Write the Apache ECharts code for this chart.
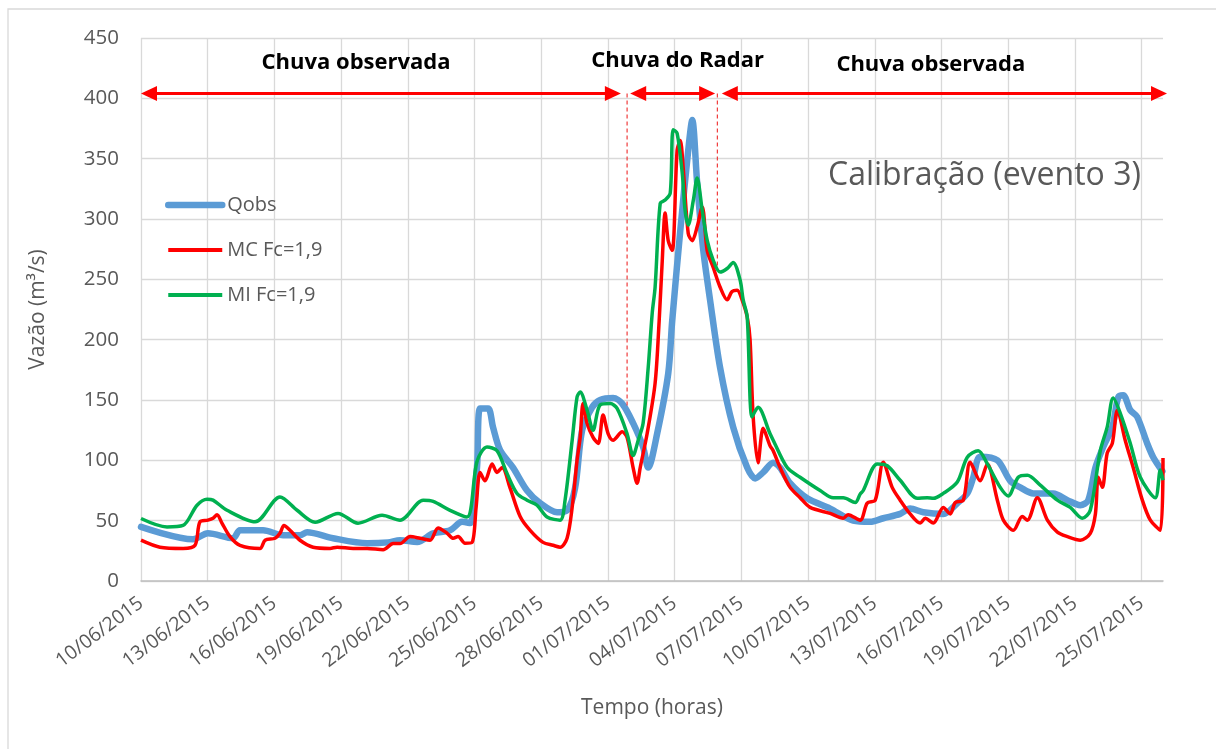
<!DOCTYPE html>
<html>
<head>
<meta charset="utf-8">
<script src="https://cdn.jsdelivr.net/npm/echarts@6/dist/echarts.min.js"></script>
<style>
html,body{margin:0;padding:0;background:#fff;}
#c{width:1216px;height:749px;}
</style>
</head>
<body>
<div id="c"></div>
<script>
// ---------- DATA (days since 10/06/2015, discharge m³/s) ----------
const tickLabels = ['10/06/2015','13/06/2015','16/06/2015','19/06/2015','22/06/2015','25/06/2015','28/06/2015','01/07/2015','04/07/2015','07/07/2015','10/07/2015','13/07/2015','16/07/2015','19/07/2015','22/07/2015','25/07/2015'];
const tickDays = [0,3,6,9,12,15,18,21,24,27,30,33,36,39,42,45];

const qobsDays = [0,2.34,3.01,4.14,4.45,5.49,6.39,7.15,7.47,8.64,10.17,11.11,11.65,12.42,13.14,13.90,14.44,14.80,15.11,15.25,15.61,15.83,16.15,16.73,17.36,17.95,18.71,19.16,19.52,19.84,20.29,20.65,21.23,21.64,22.13,22.58,22.81,23.21,23.71,23.89,24.25,24.61,24.79,25.01,25.28,25.59,26.04,26.63,27.26,27.62,27.98,28.43,28.74,29.19,29.96,30.99,32.03,32.79,33.38,34.14,34.59,35.18,36.08,36.71,37.16,37.43,37.74,38.51,39.09,39.54,40.13,41.03,41.66,42.24,42.60,42.92,43.27,43.68,43.95,44.17,44.49,44.80,45.25,45.52,45.93];
const qobsVals = [44.8,34.6,39.5,35.4,42,42,38,38,40.4,35.4,31.3,32,33.8,32.4,39.5,42,49,48,94,143,143,127.5,108.4,94,75,64.5,57,58.6,77,125,144,150,151.6,147,130.8,111,94,122,172,216,290,357,382,330,275,233,177,127.5,94,85,90,98,94,81,68.5,60,50,49,52,55.6,60,57,55.6,64.5,72.6,86,103,100,83,77.6,72.6,72.6,67,62.8,67,94,111,127.5,152.5,154,141.6,136,114,102.6,91];

const mcDays = [0,0.85,1.89,2.43,2.65,3.01,3.24,3.42,3.64,4.00,4.45,5.35,5.58,6.03,6.25,6.43,6.70,7.15,7.74,8.50,8.82,9.54,10.17,10.89,11.34,11.65,12.10,12.55,13.00,13.36,13.77,14.04,14.26,14.57,14.89,15.07,15.25,15.47,15.79,16.01,16.24,16.60,17.05,17.50,18.08,18.53,18.85,19.16,19.39,19.61,19.75,19.88,20.06,20.33,20.56,20.78,21.01,21.23,21.64,21.86,22.13,22.31,22.45,22.76,23.12,23.30,23.44,23.57,23.71,23.89,24.11,24.25,24.38,24.61,24.79,25.01,25.24,25.46,25.73,26.04,26.36,26.58,26.81,27.03,27.26,27.39,27.53,27.75,27.98,28.29,28.43,28.74,29.19,29.64,30.09,30.99,31.58,31.80,32.34,32.66,33.02,33.38,33.78,34.14,34.59,35.04,35.27,35.63,36.08,36.39,36.62,36.98,37.29,37.74,38.06,38.51,38.78,39.23,39.63,39.86,40.31,40.76,41.21,41.66,42.24,42.69,42.92,43.05,43.23,43.45,43.68,43.91,44.26,44.62,45.03,45.39,45.84,45.96];
const mcVals = [33.8,28,27,29.6,49,50.4,52,55,48,36.8,29.6,27,33.8,35.4,39.5,46,42,33.8,28,27,28,27,27,26,31,31,36.8,35.4,33.8,44,39.5,35.4,36.8,31.3,32,61,90,83,97,90,94,77,53.5,42,32,29.6,28,35.4,61,100,119,147,130.8,119,114,137.5,122,116.7,123.6,119,94,81,94,122,164,215,265,305,282,274,357,365,343,288,282,293.5,310,274,260,243.6,233,240,241,233,219,200,136,98,126.5,112,108,94,77.6,69,61,56,52,55,50.4,64.5,67,98.4,77.6,67,55.6,48,52,48,61,55.6,65,67,98.4,83,97,67,50.4,42,53.5,50.4,69,50.4,40.5,36.8,33.8,39.5,55.6,86,77.6,106,114,141.6,116.7,94,67,50.4,42,102];

const miDays = [0,1.17,1.89,2.52,2.97,3.24,3.87,5.13,6.25,7.02,7.83,8.86,9.76,10.84,11.65,12.69,13.14,13.90,14.66,15.11,15.56,16.01,16.46,16.91,17.36,17.81,18.26,18.85,19.07,19.39,19.61,19.75,20.06,20.33,20.65,21.10,21.41,21.86,22.13,22.36,22.58,22.81,22.99,23.12,23.35,23.57,23.80,23.93,24.11,24.34,24.47,24.61,24.84,25.01,25.24,25.46,25.73,26.04,26.36,26.63,26.94,27.08,27.26,27.48,27.75,28.29,28.43,29.06,29.64,30.54,31.13,31.58,32.12,32.34,32.48,33.11,33.56,34.14,34.91,35.36,35.63,36.08,36.71,37.16,37.65,38.06,38.64,39.00,39.45,39.86,40.44,41.21,41.79,42.33,42.69,43.14,43.45,43.72,44.04,44.49,44.94,45.61,45.84,45.96];
const miVals = [51.8,44.8,46,62.8,67.8,67,58.6,49,69.7,58.6,48.7,56,47.9,54.5,50.4,67,66,58.6,53,99,111,108,89,72.5,67,62.8,53,50.4,67,116.7,152.5,156.6,141.6,125,146,147,143,122,104,116.7,130.8,177,222,243.6,313,315.7,321.6,374,371,338,307,295,315.7,334,307,282.5,265.9,256,259,264,249.6,233,219,136,144,122,116.7,94,86,75,69,69,65,72,75,97,95.5,83.5,68.5,69,68.5,72.6,82,102.6,108,97,77.6,70.5,86,87.6,79.4,67,61,52,58.6,108,127.5,151.6,139,114,86,69,92,83.5];

// annotations (data coordinates)
const arrowLevel = 404;
const arrowSpans = [[0, 21.58], [22.0, 25.82], [26.12, 46.14]];
const dashedMarks = [[21.86, 143], [25.92, 260]];
const periodLabels = [['Chuva observada', 9.67, 429.5], ['Chuva do Radar', 24.13, 431], ['Chuva observada', 35.52, 428]];

const pair = (d, v) => d.map((x, i) => [x, v[i]]);
const FONT = 'Open Sans';
const GRAY = '#595959';

const chart = echarts.init(document.getElementById('c'), null, {renderer: 'canvas'});
const option = {
  backgroundColor: '#fff',
  animation: false,
  grid: {left: 141, right: 53, top: 38, bottom: 168, containLabel: false},
  legend: {
    orient: 'vertical', left: 160, top: 190, itemGap: 25, itemWidth: 54, itemHeight: 20,
    textStyle: {fontFamily: FONT, fontSize: 20, color: GRAY},
    itemStyle: {opacity: 0},
    data: [
      {name: 'Qobs', lineStyle: {width: 6.5, cap: 'round'}},
      {name: 'MC Fc=1,9', lineStyle: {width: 4}},
      {name: 'MI Fc=1,9', lineStyle: {width: 4}}
    ]
  },
  xAxis: {
    type: 'value', min: 0, max: 45.96, interval: 3,
    name: 'Tempo (horas)', nameLocation: 'middle', nameGap: 117,
    nameTextStyle: {fontFamily: FONT, fontSize: 21, color: GRAY},
    axisLine: {show: true, lineStyle: {color: '#bfbfbf', width: 1.5}},
    axisTick: {show: false, customValues: tickDays},
    splitLine: {show: true, lineStyle: {color: '#d9d9d9', width: 1.3}},
    axisLabel: {
      rotate: 37, margin: 20, fontFamily: FONT, fontSize: 19.5, color: GRAY,
      customValues: tickDays,
      formatter: v => { const k = tickDays.indexOf(Math.round(v)); return k >= 0 ? tickLabels[k] : ''; }
    }
  },
  yAxis: {
    type: 'value', min: 0, max: 450, interval: 50,
    name: 'Vazão (m³/s)', nameLocation: 'middle', nameGap: 92,
    nameTextStyle: {fontFamily: FONT, fontSize: 21, color: GRAY},
    axisLine: {show: false}, axisTick: {show: false},
    splitLine: {lineStyle: {color: '#d9d9d9', width: 1.3}},
    axisLabel: {margin: 22, fontFamily: FONT, fontSize: 20.5, color: GRAY}
  },
  series: [
    {name: 'Qobs', type: 'line', data: pair(qobsDays, qobsVals), showSymbol: false, symbol: 'none', smooth: 0.3,
     lineStyle: {color: '#5b9bd5', width: 6.5, cap: 'round', join: 'round'}, itemStyle: {color: '#5b9bd5'}},
    {name: 'MC Fc=1,9', type: 'line', data: pair(mcDays, mcVals), showSymbol: false, symbol: 'none', smooth: 0.3,
     lineStyle: {color: '#ff0000', width: 3.5, join: 'round'}, itemStyle: {color: '#ff0000'}},
    {name: 'MI Fc=1,9', type: 'line', data: pair(miDays, miVals), showSymbol: false, symbol: 'none', smooth: 0.3,
     lineStyle: {color: '#00b050', width: 3.5, join: 'round'}, itemStyle: {color: '#00b050'}}
  ]
};
chart.setOption(option);

// ---------- annotations positioned through the chart's own scales ----------
const px = (d, v) => chart.convertToPixel({gridIndex: 0}, [d, v]);
const g = [];
g.push({type: 'rect', shape: {x: 8, y: 9, width: 1300, height: 900}, style: {fill: 'none', stroke: '#d9d9d9', lineWidth: 1.3}, z: -10, silent: true});
const RED = '#ff0000';
const HL = 16, HW = 7.5;
arrowSpans.forEach(([a, b]) => {
  const p1 = px(a, arrowLevel), p2 = px(b, arrowLevel);
  g.push({type: 'line', shape: {x1: p1[0] + HL - 2, y1: p1[1], x2: p2[0] - HL + 2, y2: p2[1]}, style: {stroke: RED, lineWidth: 3}, z: 50});
  g.push({type: 'polygon', shape: {points: [[p1[0], p1[1]], [p1[0] + HL, p1[1] - HW], [p1[0] + HL, p1[1] + HW]]}, style: {fill: RED}, z: 50});
  g.push({type: 'polygon', shape: {points: [[p2[0], p2[1]], [p2[0] - HL, p2[1] - HW], [p2[0] - HL, p2[1] + HW]]}, style: {fill: RED}, z: 50});
});
dashedMarks.forEach(([d, bottom]) => {
  const p1 = px(d, arrowLevel), p2 = px(d, bottom);
  g.push({type: 'line', shape: {x1: p1[0], y1: p1[1], x2: p2[0], y2: p2[1]}, style: {stroke: '#f03c3c', lineWidth: 1.2, lineDash: [4, 3]}, z: 50});
});
periodLabels.forEach(([t, d, v]) => {
  const p = px(d, v);
  g.push({type: 'text', x: p[0], y: p[1], style: {text: t, fill: '#000', font: 'bold 22px "Open Sans"', textAlign: 'center', textVerticalAlign: 'middle'}, z: 50});
});
g.push({type: 'text', x: 828, y: 176, style: {text: 'Calibração (evento 3)', fill: GRAY, font: '32px "Open Sans"', textAlign: 'left', textVerticalAlign: 'middle'}, z: 50});
chart.setOption({graphic: g});
</script>
</body>
</html>
